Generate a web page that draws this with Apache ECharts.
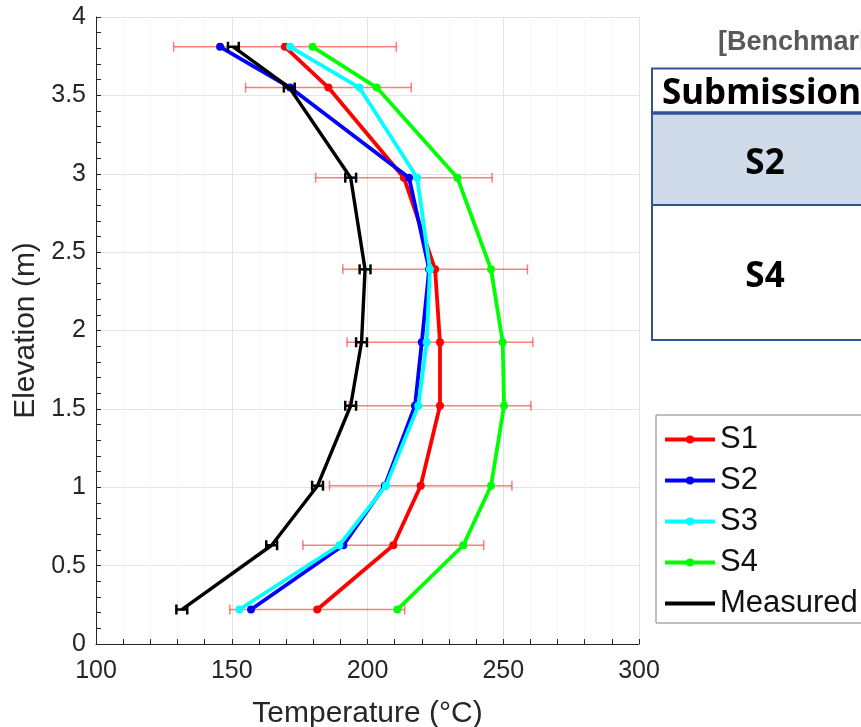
<!DOCTYPE html>
<html>
<head>
<meta charset="utf-8">
<script src="https://cdn.jsdelivr.net/npm/echarts@6/dist/echarts.min.js"></script>
<style>
  html, body { margin: 0; padding: 0; background: #fff; }
  #chart { width: 861px; height: 727px; }
</style>
</head>
<body>
<div id="chart"></div>
<script>
// Sampling elevations (m) shared by all profiles
const elevation = [3.81, 3.55, 2.975, 2.39, 1.925, 1.52, 1.01, 0.63, 0.22];

// Temperature profiles (°C)
const s1 = [169.6, 185.6, 213.4, 224.9, 226.7, 226.7, 219.6, 209.5, 181.5];
const s2 = [145.7, 171.5, 215.3, 222.7, 220.0, 217.5, 206.4, 191.1, 157.1];
const s3 = [171.5, 197.0, 218.3, 223.0, 221.8, 218.7, 206.8, 189.6, 152.8];
const s4 = [179.8, 203.4, 233.1, 245.5, 249.8, 250.3, 245.5, 235.3, 211.0];
const measured = [150.6, 171.2, 193.8, 199.1, 197.8, 193.8, 181.6, 164.7, 131.6];

// Half-widths of the horizontal error bars (°C)
const s1Err = [41.0, 30.5, 32.5, 34.0, 34.2, 33.5, 33.6, 33.3, 32.2];
const measuredErr = [2, 2, 2, 2, 2, 2, 2, 2, 2];

const seriesNames = ['S1', 'S2', 'S3', 'S4', 'Measured'];
const seriesColors = ['#ff0000', '#0000ff', '#00ffff', '#00ff00', '#000000'];

const xTitle = 'Temperature (°C)';
const yTitle = 'Elevation (m)';

// Side table text
const tableTitle = '[Benchmark]';
const tableHeader = 'Submission';
const tableRows = ['S2', 'S4'];

const FONT = '"Liberation Sans", Arial, Helvetica, sans-serif';
const TABLE_FONT = 'bold 35px "Noto Sans", sans-serif';
const AXIS_COLOR = '#262626';

function pairs(temps) {
  return temps.map((t, i) => [t, elevation[i]]);
}

function errorBars(name, centers, half, style, capHalf, z) {
  return {
    type: 'custom',
    name: name,
    silent: true,
    z: z,
    data: centers.map((t, i) => [t - half[i], t + half[i], elevation[i]]),
    encode: { x: [0, 1], y: 2 },
    renderItem: function (params, api) {
      const lo = api.coord([api.value(0), api.value(2)]);
      const hi = api.coord([api.value(1), api.value(2)]);
      return {
        type: 'group',
        children: [
          { type: 'line', shape: { x1: lo[0], y1: lo[1], x2: hi[0], y2: hi[1] }, style: style },
          { type: 'line', shape: { x1: lo[0], y1: lo[1] - capHalf, x2: lo[0], y2: lo[1] + capHalf }, style: style },
          { type: 'line', shape: { x1: hi[0], y1: hi[1] - capHalf, x2: hi[0], y2: hi[1] + capHalf }, style: style }
        ]
      };
    }
  };
}

function lineSeries(idx, temps, withSymbol, z) {
  return {
    type: 'line',
    name: seriesNames[idx],
    data: pairs(temps),
    color: seriesColors[idx],
    symbol: withSymbol ? 'circle' : 'none',
    symbolSize: 8,
    showSymbol: withSymbol,
    lineStyle: { width: withSymbol ? 3.8 : 3.4, color: seriesColors[idx] },
    itemStyle: { color: seriesColors[idx] },
    z: z
  };
}

const chart = echarts.init(document.getElementById('chart'), null, { renderer: 'canvas' });

const tableBlue = '#2f5597';

// Legend entries; the measured profile is shown as a plain line
const legendData = seriesNames.map(function (n) {
  return n === 'Measured' ? { name: n, itemStyle: { opacity: 0 } } : { name: n };
});

chart.setOption({
  animation: false,
  backgroundColor: '#ffffff',
  grid: { left: 96, right: 222, top: 17, bottom: 83, containLabel: false, outerBoundsMode: 'none' },
  xAxis: {
    type: 'value',
    min: 100, max: 300, interval: 50,
    name: xTitle,
    nameLocation: 'middle',
    nameGap: 55,
    nameTextStyle: { fontFamily: FONT, fontSize: 30, color: AXIS_COLOR },
    axisLine: { show: true, onZero: false, lineStyle: { color: AXIS_COLOR, width: 1 } },
    axisTick: { show: true, inside: true, length: 5, lineStyle: { color: AXIS_COLOR } },
    minorTick: { show: true, splitNumber: 5, length: 5, lineStyle: { color: AXIS_COLOR } },
    axisLabel: { fontFamily: FONT, fontSize: 25, color: AXIS_COLOR, margin: 15 },
    splitLine: { show: true, lineStyle: { color: '#e4e4e4', width: 1 } },
    minorSplitLine: { show: true, lineStyle: { color: '#eeeeee', width: 1, type: 'dotted' } }
  },
  yAxis: {
    type: 'value',
    min: 0, max: 4, interval: 0.5,
    name: yTitle,
    nameLocation: 'middle',
    nameGap: 39,
    nameRotate: 90,
    nameTextStyle: { fontFamily: FONT, fontSize: 30, color: AXIS_COLOR },
    axisLine: { show: true, onZero: false, lineStyle: { color: AXIS_COLOR, width: 1 } },
    axisTick: { show: true, inside: true, length: 5, lineStyle: { color: AXIS_COLOR } },
    minorTick: { show: true, splitNumber: 5, length: 5, lineStyle: { color: AXIS_COLOR } },
    axisLabel: { fontFamily: FONT, fontSize: 25, color: AXIS_COLOR, margin: 10 },
    splitLine: { show: true, lineStyle: { color: '#e4e4e4', width: 1 } }
  },
  legend: {
    data: legendData,
    orient: 'vertical',
    left: 656,
    top: 415,
    padding: [9, 60, 4, 7],
    itemWidth: 50,
    itemHeight: 10,
    itemGap: 10,
    backgroundColor: '#ffffff',
    borderColor: '#808080',
    borderWidth: 1,
    borderRadius: 0,
    selectedMode: false,
    lineStyle: { width: 4 },
    textStyle: { fontFamily: FONT, fontSize: 31, color: '#111111', lineHeight: 30 }
  },
  graphic: [
    {
      type: 'text', z: 10,
      style: { text: tableTitle, x: 718, y: 43, font: 'bold 27px ' + FONT, fill: '#595959', verticalAlign: 'middle' }
    },
    {
      type: 'rect', z: 10,
      shape: { x: 652, y: 68, width: 400, height: 272 },
      style: { fill: '#ffffff', stroke: null }
    },
    {
      type: 'rect', z: 10,
      shape: { x: 652, y: 114, width: 400, height: 91 },
      style: { fill: '#d0dbea', stroke: null }
    },
    {
      type: 'line', z: 11,
      shape: { x1: 652, y1: 113, x2: 1052, y2: 113 },
      style: { stroke: tableBlue, lineWidth: 3.5 }
    },
    {
      type: 'line', z: 11,
      shape: { x1: 652, y1: 205, x2: 1052, y2: 205 },
      style: { stroke: tableBlue, lineWidth: 2 }
    },
    {
      type: 'rect', z: 12,
      shape: { x: 652, y: 68.5, width: 400, height: 271.5 },
      style: { fill: null, stroke: tableBlue, lineWidth: 2 }
    },
    {
      type: 'text', z: 13,
      style: { text: tableHeader, x: 662, y: 94, font: TABLE_FONT, fill: '#000000', verticalAlign: 'middle' }
    },
    {
      type: 'text', z: 13,
      style: { text: tableRows[0], x: 765, y: 164, font: TABLE_FONT, fill: '#000000', align: 'center', verticalAlign: 'middle' }
    },
    {
      type: 'text', z: 13,
      style: { text: tableRows[1], x: 765, y: 277, font: TABLE_FONT, fill: '#000000', align: 'center', verticalAlign: 'middle' }
    }
  ],
  series: [
    errorBars('S1 error', s1, s1Err, { stroke: 'rgba(255,0,0,0.5)', lineWidth: 1.5 }, 5, 1),
    lineSeries(0, s1, true, 2),
    lineSeries(1, s2, true, 3),
    lineSeries(2, s3, true, 4),
    lineSeries(3, s4, true, 5),
    lineSeries(4, measured, false, 6),
    errorBars('Measured error', measured, measuredErr, { stroke: '#000000', lineWidth: 2.5 }, 5, 7)
  ]
});
</script>
</body>
</html>
